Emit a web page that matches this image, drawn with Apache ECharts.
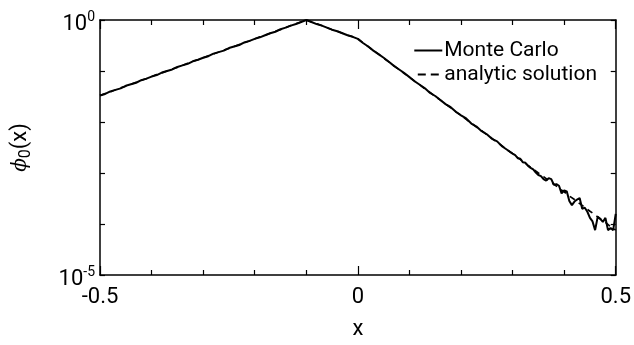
<!DOCTYPE html>
<html>
<head>
<meta charset="utf-8">
<script src="https://cdn.jsdelivr.net/npm/echarts@6/dist/echarts.min.js"></script>
<style>
  html, body { margin: 0; padding: 0; background: #fff; }
  #chart { width: 634px; height: 345px; }
</style>
</head>
<body>
<div id="chart"></div>
<script>
// x positions and log10(phi0)
var analyticX = [];
for (var i = 0; i <= 100; i++) analyticX.push(+(-0.5 + i * 0.01).toFixed(2));
var analyticLog = [
  -1.48,-1.44,-1.41,-1.37,-1.33,-1.30,-1.26,-1.22,-1.18,-1.15,
  -1.11,-1.07,-1.04,-1.00,-0.96,-0.93,-0.89,-0.85,-0.81,-0.78,
  -0.74,-0.70,-0.67,-0.63,-0.59,-0.56,-0.52,-0.48,-0.44,-0.41,
  -0.37,-0.33,-0.30,-0.26,-0.22,-0.19,-0.15,-0.11,-0.07,-0.04,
   0.00,-0.04,-0.07,-0.11,-0.15,-0.19,-0.22,-0.26,-0.30,-0.33,
  -0.37,-0.45,-0.52,-0.60,-0.67,-0.75,-0.82,-0.90,-0.97,-1.05,
  -1.12,-1.20,-1.27,-1.35,-1.42,-1.50,-1.57,-1.65,-1.72,-1.80,
  -1.87,-1.95,-2.02,-2.10,-2.17,-2.25,-2.32,-2.40,-2.47,-2.55,
  -2.62,-2.70,-2.77,-2.85,-2.92,-3.00,-3.07,-3.15,-3.22,-3.30,
  -3.37,-3.45,-3.52,-3.60,-3.67,-3.75,-3.82,-3.90,-3.97,-4.05,
  -4.12
];

var mcX = [];
for (var j = 0; j <= 80; j++) mcX.push(+(-0.5 + j * 0.01).toFixed(3));
for (var k = 1; k <= 40; k++) mcX.push(+(0.3 + k * 0.005).toFixed(3));
var mcLog = [
  -1.48,-1.45,-1.40,-1.37,-1.34,-1.29,-1.26,-1.23,-1.18,-1.15,
  -1.11,-1.08,-1.03,-1.00,-0.97,-0.92,-0.89,-0.86,-0.81,-0.78,
  -0.74,-0.71,-0.66,-0.63,-0.60,-0.55,-0.52,-0.49,-0.44,-0.41,
  -0.37,-0.34,-0.30,-0.26,-0.23,-0.18,-0.15,-0.11,-0.08,-0.04,
   0.00,-0.04,-0.08,-0.11,-0.15,-0.19,-0.22,-0.26,-0.30,-0.33,
  -0.37,-0.45,-0.52,-0.60,-0.67,-0.74,-0.82,-0.90,-0.97,-1.04,
  -1.12,-1.20,-1.27,-1.34,-1.43,-1.49,-1.57,-1.65,-1.71,-1.80,
  -1.87,-1.93,-2.03,-2.09,-2.18,-2.24,-2.33,-2.38,-2.48,-2.55,
  -2.62,
  -2.65,-2.71,-2.72,-2.79,-2.80,-2.86,-2.90,-2.93,-2.99,-3.04,
  -3.06,-3.12,-3.15,-3.10,-3.12,-3.23,-3.22,-3.25,-3.40,-3.34,
  -3.36,-3.55,-3.63,-3.56,-3.52,-3.49,-3.70,-3.68,-3.76,-3.88,
  -3.95,-4.12,-3.86,-3.90,-3.96,-3.88,-4.12,-4.08,-4.12,-3.80
];

var seriesNames = ['Monte Carlo', 'analytic solution'];

function pairs(xs, logs) {
  return xs.map(function (x, n) { return [x, Math.pow(10, logs[n])]; });
}

var FONT = 'Roboto';
var chart = echarts.init(document.getElementById('chart'), null, { renderer: 'canvas' });

function decadeLabel(v) {
  var e = Math.round(Math.log10(v));
  if (e === 0) return '{b|10}{s|0}';
  if (e === -5) return '{b|10}{s|-5}';
  return '';
}

var xCommon = {
  type: 'value', min: -0.5, max: 0.5, interval: 0.5,
  axisLine: { onZero: false, lineStyle: { color: '#000', width: 1.5 } },
  axisTick: { inside: true, length: 9, lineStyle: { color: '#000', width: 1.2 } },
  minorTick: { show: true, splitNumber: 5, length: 5, lineStyle: { color: '#000', width: 1.2 } },
  splitLine: { show: false }
};
var yCommon = {
  type: 'log', logBase: 10, min: 1e-5, max: 1,
  axisLine: { show: true, onZero: false, lineStyle: { color: '#000', width: 1.5 } },
  axisTick: { show: true, inside: true, length: 5, lineStyle: { color: '#000', width: 1.2 } },
  splitLine: { show: false }
};

chart.setOption({
  animation: false,
  backgroundColor: '#fff',
  grid: { left: 100, right: 18, top: 20, bottom: 68 },
  legend: {
    data: [
      { name: seriesNames[0], icon: 'path://M0,0H28V2H0Z' },
      { name: seriesNames[1], icon: 'path://M0,0H8V2H0Z M13,0H21V2H13Z' }
    ],
    orient: 'vertical',
    right: 32, top: 35,
    itemWidth: 28, itemHeight: 2, itemGap: 3,
    itemStyle: { color: '#000', borderWidth: 0 },
    textStyle: { fontFamily: FONT, fontSize: 21, color: '#000', padding: [0, 0, 0, -3] }
  },
  xAxis: [
    Object.assign({}, xCommon, {
      position: 'bottom',
      name: 'x', nameLocation: 'middle', nameGap: 43,
      nameTextStyle: { fontFamily: FONT, fontSize: 22, color: '#000' },
      axisLabel: {
        show: true, margin: 11, showMinLabel: true, showMaxLabel: true,
        fontFamily: FONT, fontSize: 22, color: '#000',
        formatter: function (v) { return v === 0 ? '0' : String(v); }
      }
    }),
    Object.assign({}, xCommon, { position: 'top', axisLabel: { show: false } })
  ],
  yAxis: [
    Object.assign({}, yCommon, {
      position: 'left',
      name: '{i|ϕ}{sub|0}(x)', nameLocation: 'middle', nameGap: 66, nameRotate: 90,
      nameTextStyle: {
        fontFamily: FONT, fontSize: 22, color: '#000',
        rich: {
          i: { fontFamily: 'DejaVu Serif', fontStyle: 'italic', fontSize: 20, color: '#000' },
          sub: { fontFamily: FONT, fontSize: 16, color: '#000', padding: [11, 0, 0, 0] }
        }
      },
      axisLabel: {
        show: true, margin: 5, showMinLabel: true, showMaxLabel: true,
        formatter: decadeLabel,
        rich: {
          b: { fontFamily: FONT, fontSize: 22, color: '#000', padding: [9, 0, 0, 0] },
          s: { fontFamily: FONT, fontSize: 14, color: '#000', padding: [0, 0, 6, 0] }
        }
      }
    }),
    Object.assign({}, yCommon, { position: 'right', axisLabel: { show: false } })
  ],
  series: [
    {
      name: seriesNames[0], type: 'line', xAxisIndex: 0, yAxisIndex: 0,
      data: pairs(mcX, mcLog),
      symbol: 'none', showSymbol: false, z: 3,
      lineStyle: { color: '#000', width: 2 },
      itemStyle: { color: '#000' }
    },
    {
      name: seriesNames[1], type: 'line', xAxisIndex: 0, yAxisIndex: 0,
      data: pairs(analyticX, analyticLog),
      symbol: 'none', showSymbol: false, z: 2,
      lineStyle: { color: '#000', width: 1.6, type: [6, 5] },
      itemStyle: { color: '#000' }
    }
  ]
});
</script>
</body>
</html>
